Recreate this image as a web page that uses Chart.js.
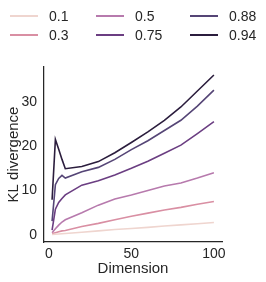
<!DOCTYPE html>
<html>
<head>
<meta charset="utf-8">
<script src="https://cdn.jsdelivr.net/npm/chart.js@4"></script>
<style>
  html, body { margin: 0; padding: 0; background: #fff; }
  #wrap { position: relative; width: 266px; height: 282px; }
  #legend { position: absolute; left: 0; top: 0; width: 266px; height: 50px;
    font-family: "Liberation Sans", Arial, sans-serif; font-size: 14px; color: #262626; }
  .item { position: absolute; height: 18px; line-height: 18px; }
  .item span.ln { position: absolute; left: 0; top: 8px; width: 28px; height: 2px; }
  .item span.tx { position: absolute; left: 39px; top: 0; white-space: nowrap; }
</style>
</head>
<body>
<div id="wrap">
  <canvas id="chart" width="266" height="282"></canvas>
  <div id="legend"></div>
</div>
<script>
// dimension values on x
const dims = [2, 4, 6, 8, 10, 20, 30, 40, 50, 60, 70, 80, 90, 100];

const labels = ['0.1', '0.3', '0.5', '0.75', '0.88', '0.94'];
const colors = ['#efd5cf', '#d98fa3', '#b77aad', '#6b3e82', '#554576', '#2b1d3d'];

// KL divergence per series
const kl01  = [0.1, 0.15, 0.2, 0.25, 0.3, 0.6, 0.9, 1.2, 1.45, 1.7, 2.0, 2.25, 2.5, 2.8];
const kl03  = [0.3, 0.5, 0.7, 0.9, 1.0, 1.9, 2.6, 3.4, 4.2, 4.9, 5.6, 6.2, 6.9, 7.5];
const kl05  = [0.5, 1.4, 2.2, 2.9, 3.4, 5.0, 6.7, 8.1, 9.0, 10.0, 11.0, 11.7, 12.8, 14.0];
const kl075 = [1.1, 5.8, 7.3, 8.2, 9.0, 11.2, 12.2, 13.5, 15.0, 16.6, 18.4, 20.2, 22.8, 25.5];
const kl088 = [3.1, 11.3, 12.7, 13.4, 12.8, 14.2, 15.2, 17.0, 19.2, 21.2, 23.5, 25.8, 29.0, 32.6];
const kl094 = [7.9, 21.5, 19.3, 17.0, 14.9, 15.4, 16.5, 18.5, 20.8, 23.2, 25.8, 28.8, 32.4, 36.0];
const series = [kl01, kl03, kl05, kl075, kl088, kl094];

const xTicks = [0, 50, 100];
const yTicks = [0, 10, 20, 30];

const font = "'Liberation Sans', Arial, sans-serif";
const ink = '#262626';

// legend, column-major like seaborn's 3-col legend
const legend = document.getElementById('legend');
const colX = [10, 96, 190];
const rowY = [7, 26];
labels.forEach((lab, i) => {
  const col = Math.floor(i / 2), row = i % 2;
  const d = document.createElement('div');
  d.className = 'item';
  d.style.left = colX[col] + 'px';
  d.style.top = rowY[row] + 'px';
  d.innerHTML = '<span class="ln" style="background:' + colors[i] + '"></span><span class="tx">' + lab + '</span>';
  legend.appendChild(d);
});

const datasets = series.map((vals, i) => ({
  label: labels[i],
  data: dims.map((d, j) => ({ x: d, y: vals[j] })),
  borderColor: colors[i],
  borderWidth: 1.6,
  pointRadius: 0,
  tension: 0,
  fill: false,
}));

new Chart(document.getElementById('chart'), {
  type: 'line',
  data: { datasets },
  options: {
    responsive: false,
    animation: false,
    layout: { padding: { top: 67, right: 44, left: 0, bottom: 0 } },
    plugins: { legend: { display: false }, tooltip: { enabled: false } },
    scales: {
      x: {
        type: 'linear',
        min: -2.9,
        max: 104.9,
        grid: { display: false, drawTicks: false },
        border: { display: true, color: ink, width: 1.25 },
        afterBuildTicks: (s) => { s.ticks = xTicks.map(v => ({ value: v })); },
        afterFit: (s) => { s.height = 40; },
        ticks: { font: { family: font, size: 14 }, color: ink, padding: 4, maxRotation: 0 },
        title: { display: true, text: 'Dimension', font: { family: font, size: 15 }, color: ink, padding: { top: 0, bottom: 4 } },
      },
      y: {
        min: -1.6,
        max: 37.8,
        grid: { display: false, drawTicks: false },
        border: { display: true, color: ink, width: 1.25 },
        afterBuildTicks: (s) => { s.ticks = yTicks.map(v => ({ value: v })); },
        afterFit: (s) => { s.width = 44; },
        ticks: { font: { family: font, size: 14 }, color: ink, padding: 7 },
        title: { display: true, text: 'KL divergence', font: { family: font, size: 15 }, color: ink, padding: { top: 5, bottom: 0 } },
      },
    },
  },
});
</script>
</body>
</html>
